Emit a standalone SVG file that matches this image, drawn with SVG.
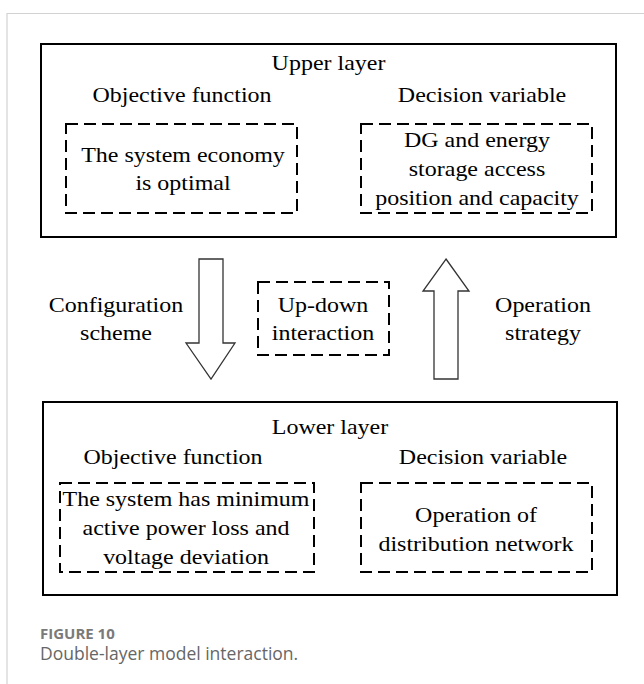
<svg xmlns="http://www.w3.org/2000/svg" width="644" height="684" viewBox="0 0 644 684">
<defs>
<style>
.frame{stroke:#d2d2d2;stroke-width:1.2;fill:none}
.box{fill:none;stroke:#000;stroke-width:2}
.dash{fill:none;stroke:#000;stroke-width:2;stroke-dasharray:12 6}
.arrow{fill:#fff;stroke:#333;stroke-width:1.3;stroke-linejoin:miter}
.t{font-family:"Liberation Serif","Times New Roman",serif;font-size:22px;fill:#000;text-anchor:middle}
.cap1{font-family:"Open Sans","Liberation Sans",sans-serif;font-size:15px;font-weight:bold;fill:#7a7a7a}
.cap2{font-family:"Open Sans","Liberation Sans",sans-serif;font-size:17.5px;fill:#666}
</style>
</defs>
<rect width="644" height="684" fill="#fff"/>
<path class="frame" d="M7,684 V13.5 H644"/>

<g id="upper-layer">
<rect class="box" x="41" y="44" width="575" height="193"/>
<text class="t" transform="translate(328.5,70) scale(1.09,1)">Upper layer</text>
<text class="t" transform="translate(182,102) scale(1.09,1)">Objective function</text>
<text class="t" transform="translate(482,102) scale(1.09,1)">Decision variable</text>
</g>

<g id="upper-objective">
<rect class="dash" x="66" y="124" width="231" height="89"/>
<text class="t" transform="translate(183,162) scale(1.09,1)">The system economy</text>
<text class="t" transform="translate(183,190) scale(1.09,1)">is optimal</text>
</g>

<g id="upper-decision">
<rect class="dash" x="361" y="124" width="231" height="89"/>
<text class="t" transform="translate(477,147) scale(1.09,1)">DG and energy</text>
<text class="t" transform="translate(477,176) scale(1.09,1)">storage access</text>
<text class="t" transform="translate(477,205) scale(1.09,1)">position and capacity</text>
</g>

<g id="connectors">
<path id="down-arrow" class="arrow" d="M199,259 H223 V343 H235 L211,379 L186,343 H199 Z"/>
<path id="up-arrow" class="arrow" d="M446,259 L469,291 H458 V379 H434 V291 H423 Z"/>
</g>

<g id="configuration-scheme">
<text class="t" transform="translate(116,312) scale(1.09,1)">Configuration</text>
<text class="t" transform="translate(116,340) scale(1.09,1)">scheme</text>
</g>

<g id="up-down-interaction">
<rect class="dash" x="258" y="282" width="131" height="73"/>
<text class="t" transform="translate(323,312) scale(1.09,1)">Up-down</text>
<text class="t" transform="translate(323,340) scale(1.09,1)">interaction</text>
</g>

<g id="operation-strategy">
<text class="t" transform="translate(543,312) scale(1.09,1)">Operation</text>
<text class="t" transform="translate(543,340) scale(1.09,1)">strategy</text>
</g>

<g id="lower-layer">
<rect class="box" x="43" y="402" width="574" height="193"/>
<text class="t" transform="translate(330,434) scale(1.09,1)">Lower layer</text>
<text class="t" transform="translate(173,464) scale(1.09,1)">Objective function</text>
<text class="t" transform="translate(483,464) scale(1.09,1)">Decision variable</text>
</g>

<g id="lower-objective">
<rect class="dash" x="60" y="483" width="254" height="89"/>
<text class="t" transform="translate(186,506) scale(1.09,1)">The system has minimum</text>
<text class="t" transform="translate(186,535) scale(1.09,1)">active power loss and</text>
<text class="t" transform="translate(186,564) scale(1.09,1)">voltage deviation</text>
</g>

<g id="lower-decision">
<rect class="dash" x="361" y="483" width="231" height="89"/>
<text class="t" transform="translate(476,522) scale(1.09,1)">Operation of</text>
<text class="t" transform="translate(476,551) scale(1.09,1)">distribution network</text>
</g>

<g id="caption">
<text class="cap1" x="40" y="639">FIGURE 10</text>
<text class="cap2" x="40" y="660">Double-layer model interaction.</text>
</g>
</svg>
